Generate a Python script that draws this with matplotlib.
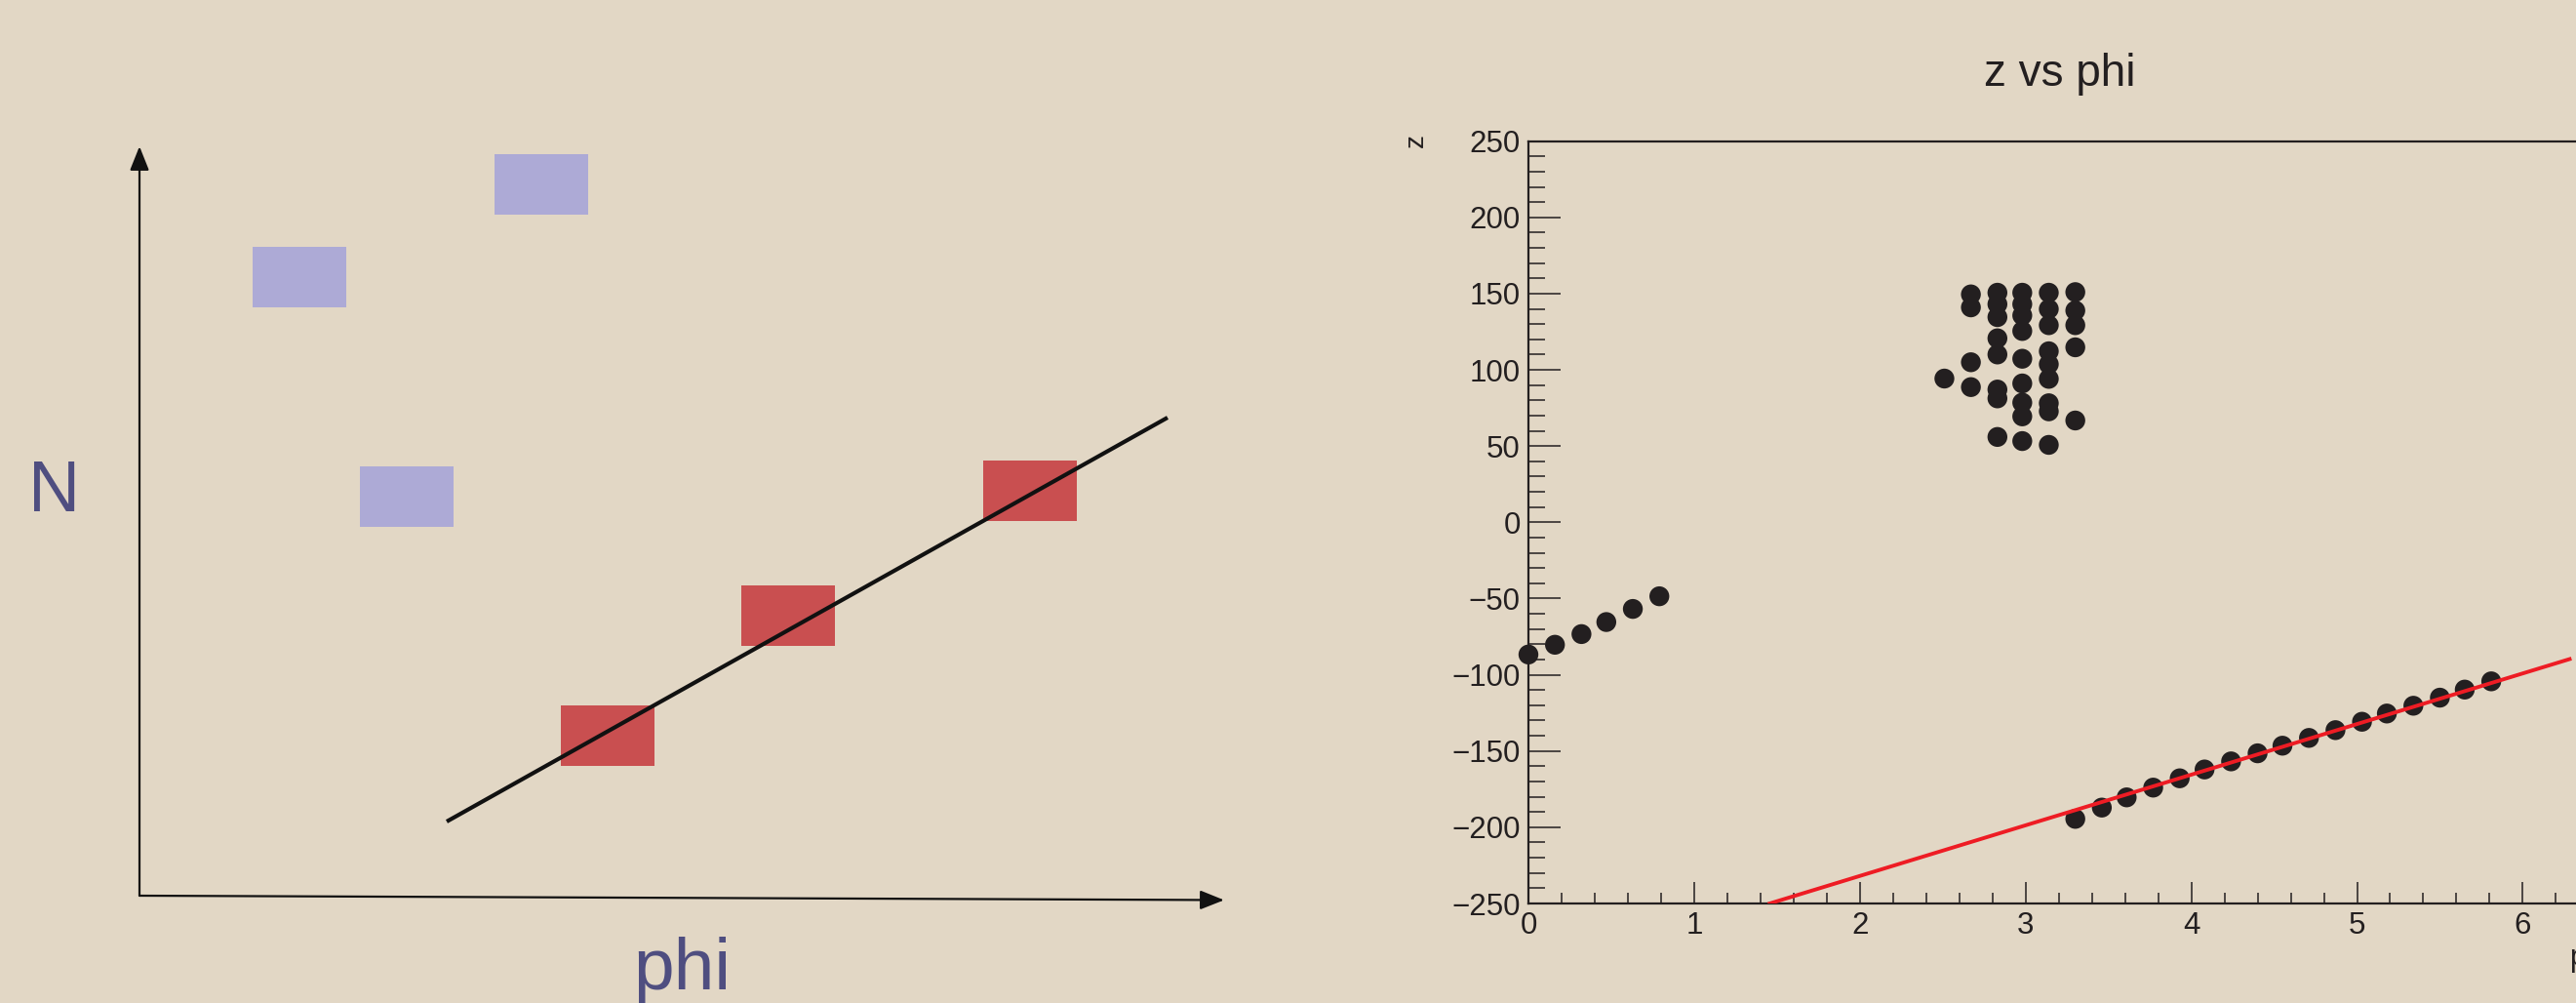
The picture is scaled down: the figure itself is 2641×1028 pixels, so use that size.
import numpy as np
import matplotlib
matplotlib.use("Agg")
import matplotlib.pyplot as plt
from matplotlib.ticker import MultipleLocator
from matplotlib.patches import Rectangle

plt.rcParams['font.family'] = ['Liberation Sans', 'DejaVu Sans']

# ------------- DATA --------------

#Schematic (left): blue = hits not on the track, red = hits on the track
blue_phi = [1.64, 4.12, 2.74]
blue_N = [6.34, 7.29, 4.09]
red_phi = [4.80, 6.65, 9.13]
red_N = [1.64, 2.87, 4.15]
track_phi = [3.15, 10.54]
track_N = [0.76, 4.90]

#z vs phi (right)
#first short segment near phi=0
seg1_phi = [0.00, 0.16, 0.32, 0.47, 0.63, 0.79]
seg1_z = [-86.7, -80.3, -73.3, -65.4, -56.8, -48.5]

#cluster of hits around phi~3
clus_phi = [2.51,
            2.67, 2.67, 2.67, 2.67,
            2.83, 2.83, 2.83, 2.83, 2.83, 2.83, 2.83, 2.83,
            2.98, 2.98, 2.98, 2.98, 2.98, 2.98, 2.98, 2.98, 2.98,
            3.14, 3.14, 3.14, 3.14, 3.14, 3.14, 3.14, 3.14, 3.14,
            3.30, 3.30, 3.30, 3.30, 3.30]
clus_z = [94.3,
          149.5, 141.0, 105.0, 88.7,
          150.6, 143.1, 134.6, 120.7, 110.1, 87.1, 81.3, 56.0,
          150.6, 143.1, 135.7, 125.5, 107.3, 91.1, 78.5, 69.5, 53.3,
          150.6, 139.9, 129.3, 112.2, 103.7, 94.1, 78.1, 72.8, 50.8,
          151.0, 138.9, 129.3, 114.8, 66.8]

#long straight track
track2_phi = [3.30, 3.46, 3.61, 3.77, 3.93, 4.08, 4.24, 4.40, 4.55,
              4.71, 4.87, 5.03, 5.18, 5.34, 5.50, 5.65, 5.81]
track2_z = [-194.5, -187.1, -180.4, -174.0, -167.9, -162.1, -156.8, -151.5, -146.5,
            -141.4, -136.3, -130.8, -125.4, -120.3, -115.0, -109.7, -104.3]

#fitted line end points
fit_phi = [1.456, 6.283]
fit_z = [-250.0, -89.7]

# -------------------------------------------

bg = '#e2d7c5'
ink = '#231f20'
label_col = '#4f4e80'

W, H = 2641, 1028
fig = plt.figure(figsize=(W / 100, H / 100), dpi=100)
fig.patch.set_facecolor(bg)

#Left schematic, 1 unit = 100 px, origin of the arrows at pixel (143, 918)
axl = fig.add_axes([0, 0, 1320.5 / W, 1])
axl.set_xlim(-1.43, (1320.5 - 143) / 100)
axl.set_ylim((918 - H) / 100, 9.18)
axl.axis('off')
axl.patch.set_alpha(0)

sq_w, sq_h = 0.96, 0.62
for p, n in zip(blue_phi, blue_N):
    axl.add_patch(Rectangle((p - sq_w / 2, n - sq_h / 2), sq_w, sq_h,
                            facecolor='#adaad6', edgecolor='none'))
for p, n in zip(red_phi, red_N):
    axl.add_patch(Rectangle((p - sq_w / 2, n - sq_h / 2), sq_w, sq_h,
                            facecolor='#c94f50', edgecolor='none'))
axl.plot(track_phi, track_N, color='#111111', lw=3.0, solid_capstyle='butt')

#arrows for the axes
arr = dict(arrowstyle='-|>,head_length=1.5,head_width=0.6', color='#111111', lw=1.6,
           shrinkA=0, shrinkB=0)
axl.annotate('', xy=(0, 7.68), xytext=(0, 0), arrowprops=arr)
axl.annotate('', xy=(11.12, -0.045), xytext=(0, 0), arrowprops=arr)

axl.text(-0.875, 4.13, 'N', fontsize=53, color=label_col, ha='center', va='center')
axl.text(5.56, -0.96, 'phi', fontsize=54, color=label_col, ha='center', va='baseline')

#Right: z vs phi
x0 = 1567
ppu = 169.9
ax = fig.add_axes([x0 / W, (H - 926) / H, 1093 / W, (926 - 144.7) / H])
ax.set_facecolor(bg)
ax.set_xlim(0, 1093 / ppu)
ax.set_ylim(-250, 250)

ax.scatter(seg1_phi, seg1_z, s=215, color=ink, edgecolors='none', clip_on=False, zorder=3)
ax.scatter(clus_phi, clus_z, s=215, color=ink, edgecolors='none', clip_on=False, zorder=3)
ax.scatter(track2_phi, track2_z, s=215, color=ink, edgecolors='none', clip_on=False, zorder=3)
ax.plot(fit_phi, fit_z, color='#ee1c24', lw=2.8, zorder=4)

ax.xaxis.set_major_locator(MultipleLocator(1))
ax.xaxis.set_minor_locator(MultipleLocator(0.2))
ax.yaxis.set_major_locator(MultipleLocator(50))
ax.yaxis.set_minor_locator(MultipleLocator(10))
ax.tick_params(axis='x', which='major', direction='in', length=15.8, width=1.1,
               labelsize=22.5, pad=6, colors=ink)
ax.tick_params(axis='x', which='minor', direction='in', length=7.7, width=1.1, colors=ink)
ax.tick_params(axis='y', which='major', direction='in', length=23.5, width=1.1,
               labelsize=22.5, pad=6, colors=ink)
ax.tick_params(axis='y', which='minor', direction='in', length=12, width=1.1, colors=ink)
ax.set_yticks(np.arange(-250, 251, 50))
ax.set_yticklabels([str(v).replace('-', '\u2212') for v in range(-250, 251, 50)])
for s in ax.spines.values():
    s.set_color(ink)
    s.set_linewidth(1.6)

fig.text(2112 / W, 1 - 76 / H, 'z vs phi', fontsize=33, color=ink, ha='center', va='center')
fig.text(1452 / W, 1 - 144 / H, 'z', fontsize=20, color=ink, rotation=90,
         ha='center', va='center')
fig.text(2634 / W, 1 - 982 / H, 'phi', fontsize=22, color=ink, ha='left', va='center')

fig.savefig("out.png", dpi=100, facecolor=bg)
